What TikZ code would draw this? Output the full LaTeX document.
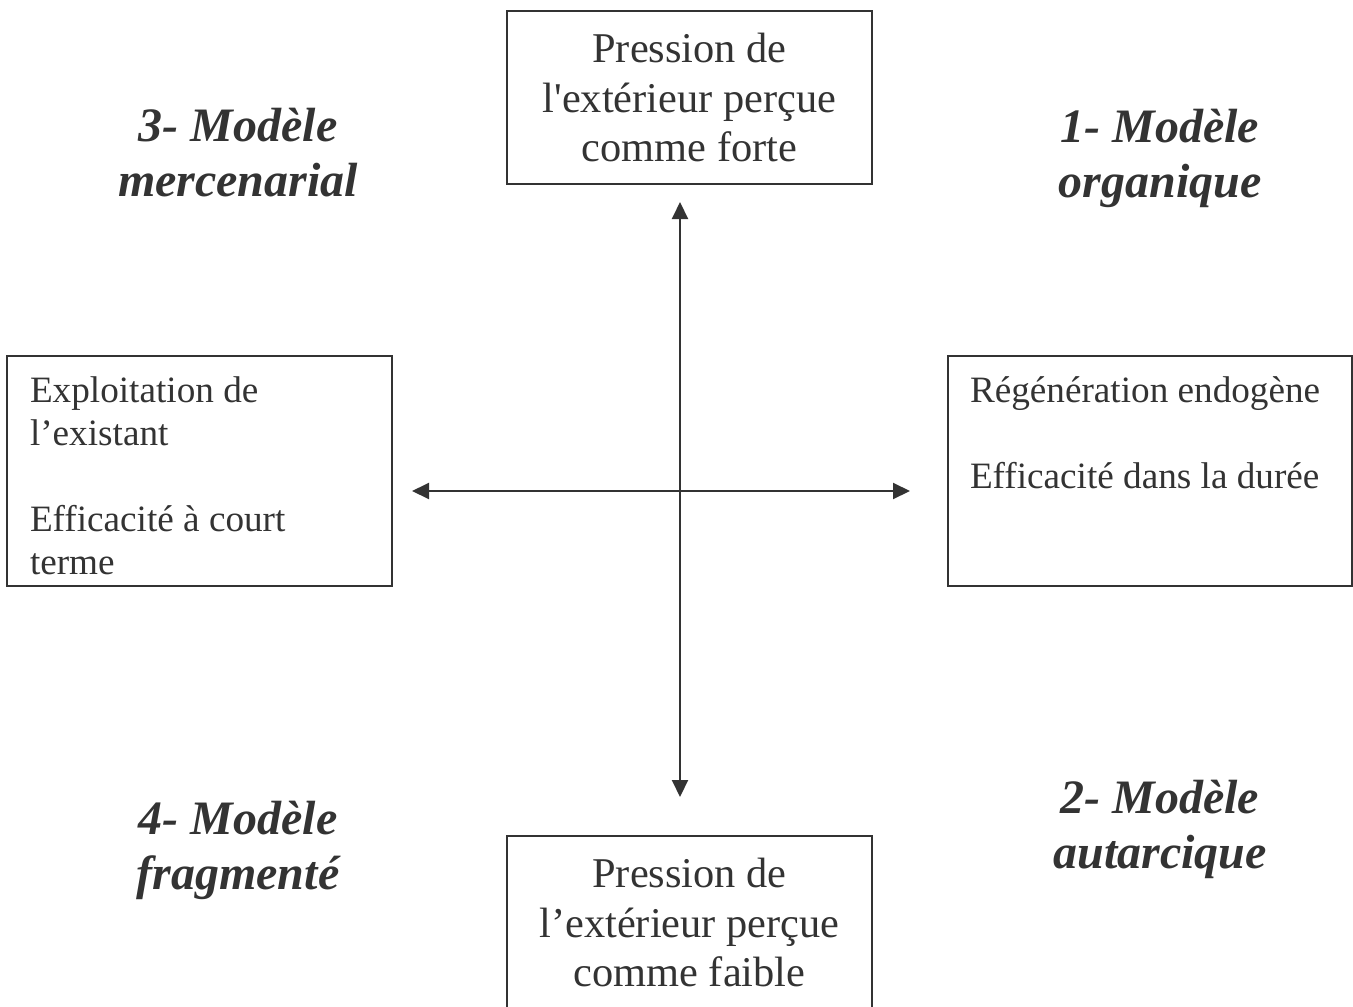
\documentclass[tikz,border=0pt]{standalone}
\usepackage{fontspec}
\setmainfont{Liberation Serif}
\usetikzlibrary{positioning, arrows.meta}
\definecolor{inkgray}{HTML}{333333}
\tikzset{
    polebox/.style={draw=inkgray, line width=1pt, inner sep=0pt, minimum width=182.5pt, minimum height=86.5pt, align=center, text=inkgray, font=\fontsize{21.2}{24.75}\selectfont},
    sidebox/.style={draw=inkgray, line width=1pt, inner xsep=11.5pt, inner ysep=8.5pt, minimum height=115pt, text=inkgray, font=\fontsize{18.6}{21.5}\selectfont},
    modeltext/.style={align=center, text=inkgray, font=\fontsize{24}{27.5}\selectfont\bfseries\itshape},
    axisarrow/.style={draw=inkgray, line width=1pt, {Triangle[length=8.5pt,width=8pt]}-{Triangle[length=8.5pt,width=8pt]}}
}

\begin{document}
\begin{tikzpicture}[x=0.5pt, y=-0.5pt]
        \clip (0,0) rectangle (1353,1006);

        % Pressure boxes
        \node[polebox] (forte) at (689.5, 97.5) {Pression de\\l\textquotesingle extérieur perçue\\comme forte};
        \node[polebox] (faible) at (689.5, 922.5) {Pression de\\l’extérieur perçue\\comme faible};

        % Side boxes
        \node[sidebox] (existant) at (199.5, 471) {\parbox[c][94pt][t]{169.5pt}{Exploitation de\\l’existant\\[21.5pt]Efficacité à court\\terme}};
        \node[sidebox, inner xsep=11pt] (endogene) at (1150, 471) {\parbox[c][94pt][t]{180pt}{Régénération endogène\\[21.5pt]Efficacité dans la durée}};

        % Model labels
        \node[modeltext] (mercenarial) at (238, 153) {3- Modèle\\mercenarial};
        \node[modeltext] (organique) at (1160, 158) {1- Modèle\\organique};
        \node[modeltext] (fragmente) at (238, 850) {4- Modèle\\fragmenté};
        \node[modeltext] (autarcique) at (1160, 829) {2- Modèle\\autarcique};

        % Axes
        \coordinate (north) at (680, 202);
        \coordinate (south) at (680, 797);
        \coordinate (west) at (412, 491);
        \coordinate (east) at (910, 491);
        \draw[axisarrow] (south) -- (north);
        \draw[axisarrow] (west) -- (east);
    \end{tikzpicture}
\end{document}
